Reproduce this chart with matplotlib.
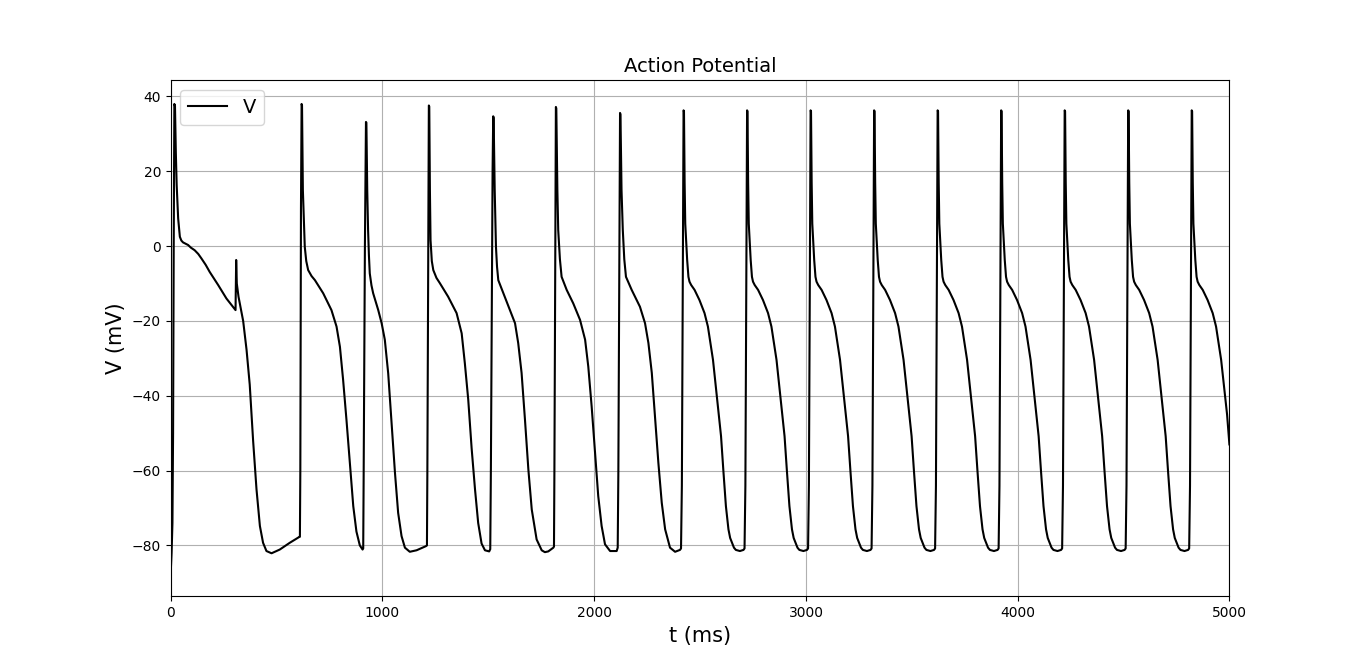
import matplotlib
matplotlib.use("Agg")
import matplotlib.pyplot as plt

# ---------- Data (t in ms, V in mV) ----------
# beat 1 (with the small stimulus bump at ~310 ms)
t1 = [0, 4, 8, 11, 14, 17, 20, 24, 28, 35, 43, 50, 58, 82, 95, 113, 130, 145, 165, 184, 224, 263, 306,
      309, 312, 320, 342, 358, 373, 389, 405, 421, 436, 452, 476, 515, 562, 608]
v1 = [-87.0, -82.0, -74.0, -50.0, 0.0, 38.0, 37.5, 25.0, 16.3, 7.4, 2.5, 1.5, 1.0, 0.3, -0.4, -1.1, -2.1,
      -3.3, -5.0, -6.9, -10.4, -14.0, -17.1, -3.7, -10.0, -13.5, -20.0, -27.7, -37.0, -52.0, -65.0,
      -74.8, -79.3, -81.5, -82.1, -81.1, -79.3, -77.7]

t2 = [610, 612, 615, 618, 620, 624, 633, 640, 649, 665, 681, 720, 759, 783, 799, 814, 830, 846, 862,
      877, 893, 906]
v2 = [-77.7, -60.0, 10.0, 38.0, 37.6, 15.0, -0.2, -4.0, -6.4, -8.0, -9.1, -12.6, -17.1, -21.5, -26.9,
      -35.7, -46.5, -58.0, -69.5, -76.3, -80.0, -81.1]

t3 = [909, 911, 917, 922, 924, 928, 932, 936, 940, 948, 956, 980, 996, 1011, 1027, 1043, 1059, 1074,
      1090, 1106, 1129, 1161, 1205]
v3 = [-80.8, -62.4, 0.0, 33.2, 33.0, 15.0, 4.3, -2.5, -7.3, -10.5, -12.6, -17.1, -20.6, -25.0, -34.0,
      -47.3, -60.6, -71.3, -77.5, -80.6, -81.7, -81.3, -80.2]

t4 = [1210, 1212, 1219, 1221, 1224, 1227, 1233, 1240, 1255, 1271, 1310, 1350, 1374, 1389, 1405, 1421,
      1437, 1452, 1468, 1484, 1504]
v4 = [-80.0, -60.0, 37.6, 37.3, 15.0, 1.6, -4.0, -6.4, -8.5, -9.9, -13.5, -17.9, -23.3, -31.3, -41.0,
      -54.0, -65.0, -74.0, -79.5, -81.3, -81.6]

t5 = [1509, 1512, 1520, 1523, 1525, 1530, 1536, 1541, 1547, 1560, 1571, 1602, 1626, 1641, 1657, 1673,
      1689, 1705, 1728, 1752, 1767, 1783, 1807]
v5 = [-81.0, -59.7, 20.0, 34.7, 34.3, 15.0, -0.2, -5.5, -9.1, -11.0, -12.6, -17.1, -20.6, -25.9, -33.9,
      -46.4, -59.7, -70.4, -78.4, -81.3, -81.8, -81.6, -80.6]

t6 = [1810, 1812, 1819, 1821, 1826, 1830, 1838, 1846, 1870, 1901, 1933, 1957, 1972, 1988, 2004, 2019,
      2035, 2051, 2075, 2106, 2111]
v6 = [-80.3, -60.0, 37.2, 36.8, 15.0, 4.3, -3.5, -8.2, -11.7, -15.3, -19.7, -25.0, -32.2, -42.9, -55.3,
      -66.8, -74.8, -79.7, -81.5, -81.5, -80.6]

t7 = [2114, 2122, 2124, 2129, 2135, 2142, 2150, 2177, 2216, 2240, 2256, 2272, 2287, 2303, 2319, 2335,
      2358, 2382, 2405, 2410]
v7 = [-60.6, 35.6, 35.2, 15.0, 4.3, -3.5, -8.2, -11.7, -16.2, -20.6, -25.9, -33.9, -45.5, -57.9, -68.6,
      -75.7, -80.6, -81.7, -81.2, -80.8]

# later beats look the same, so they share one list of voltages
v_steady = [-64.0, 36.3, 36.0, 17.0, 6.0, 1.6, -3.7, -8.2, -9.5, -10.4, -11.7, -14.4, -17.9, -21.5,
            -25.9, -30.4, -35.7, -40.0, -45.0, -50.8, -60.0, -69.5, -75.7, -78.0, -79.3, -80.6, -81.2,
            -81.5, -81.2, -80.8]

t8 = [2414, 2422, 2424, 2427, 2430, 2434, 2439, 2445, 2450, 2458, 2474, 2497, 2521, 2537, 2549, 2561,
      2571, 2579, 2589, 2599, 2610, 2622, 2634, 2642, 2651, 2660, 2669, 2688, 2705, 2710]
t9 = [2714, 2722, 2724, 2727, 2730, 2734, 2739, 2745, 2750, 2758, 2774, 2797, 2821, 2837, 2849, 2861,
      2871, 2879, 2889, 2899, 2910, 2922, 2934, 2942, 2951, 2960, 2969, 2988, 3005, 3010]
t10 = [3014, 3022, 3024, 3027, 3030, 3034, 3039, 3045, 3050, 3058, 3074, 3097, 3121, 3137, 3149, 3161,
       3171, 3179, 3189, 3199, 3210, 3222, 3234, 3242, 3251, 3260, 3269, 3288, 3305, 3310]
t11 = [3314, 3322, 3324, 3327, 3330, 3334, 3339, 3345, 3350, 3358, 3374, 3397, 3421, 3437, 3449, 3461,
       3471, 3479, 3489, 3499, 3510, 3522, 3534, 3542, 3551, 3560, 3569, 3588, 3605, 3610]
t12 = [3614, 3622, 3624, 3627, 3630, 3634, 3639, 3645, 3650, 3658, 3674, 3697, 3721, 3737, 3749, 3761,
       3771, 3779, 3789, 3799, 3810, 3822, 3834, 3842, 3851, 3860, 3869, 3888, 3905, 3910]
t13 = [3914, 3922, 3924, 3927, 3930, 3934, 3939, 3945, 3950, 3958, 3974, 3997, 4021, 4037, 4049, 4061,
       4071, 4079, 4089, 4099, 4110, 4122, 4134, 4142, 4151, 4160, 4169, 4188, 4205, 4210]
t14 = [4214, 4222, 4224, 4227, 4230, 4234, 4239, 4245, 4250, 4258, 4274, 4297, 4321, 4337, 4349, 4361,
       4371, 4379, 4389, 4399, 4410, 4422, 4434, 4442, 4451, 4460, 4469, 4488, 4505, 4510]
t15 = [4514, 4522, 4524, 4527, 4530, 4534, 4539, 4545, 4550, 4558, 4574, 4597, 4621, 4637, 4649, 4661,
       4671, 4679, 4689, 4699, 4710, 4722, 4734, 4742, 4751, 4760, 4769, 4788, 4805, 4810]
# last beat is cut off at 5000 ms
t16 = [4814, 4822, 4824, 4827, 4830, 4834, 4839, 4845, 4850, 4858, 4874, 4897, 4921, 4937, 4949, 4961,
       4971, 4979, 4989, 5000]
v16 = [-64.0, 36.3, 36.0, 17.0, 6.0, 1.6, -3.7, -8.2, -9.5, -10.4, -11.7, -14.4, -17.9, -21.5, -25.9,
       -30.4, -35.7, -40.0, -45.0, -53.0]

# ---------- Assemble ----------
t_all = t1 + t2 + t3 + t4 + t5 + t6 + t7
v_all = v1 + v2 + v3 + v4 + v5 + v6 + v7
for tb in (t8, t9, t10, t11, t12, t13, t14, t15):
    t_all += tb
    v_all += v_steady
t_all += t16
v_all += v16

# ---------- Plot ----------
fig, ax = plt.subplots(figsize=(13.66, 6.7), dpi=100)
ax.plot(t_all, v_all, color="black", linewidth=1.5, label="V")
ax.set_xlim(0, 5000)
ax.set_ylim(-93.6, 44.3)
ax.set_title("Action Potential", fontsize=14)
ax.set_xlabel("t (ms)", fontsize=15)
ax.set_ylabel("V (mV)", fontsize=15)
ax.grid(True)
ax.legend(loc="upper left", fontsize=14)

fig.savefig("out.png", dpi=100)
